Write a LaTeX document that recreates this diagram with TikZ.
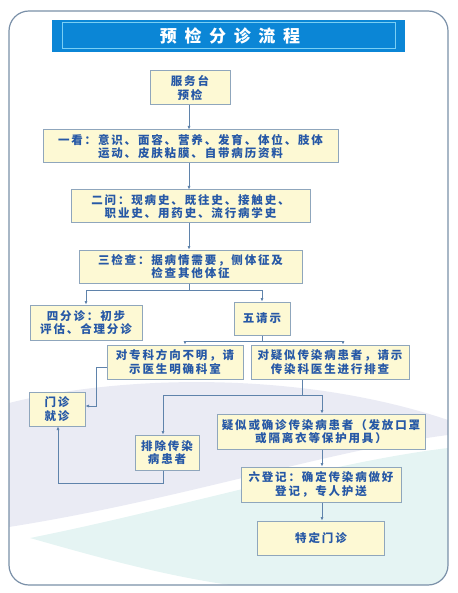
\documentclass[tikz,border=0pt]{standalone}
\usepackage{fontspec}
\newfontfamily\cjk[LetterSpace=16]{Noto Sans CJK SC}
\newfontfamily\cjkt[LetterSpace=45]{Noto Sans CJK SC}
\usetikzlibrary{arrows.meta}
\definecolor{boxfill}{HTML}{FDF9D4}
\definecolor{boxline}{HTML}{8FA6BC}
\definecolor{txt}{HTML}{2658A6}
\definecolor{conn}{HTML}{5F83AB}
\definecolor{frame}{HTML}{7A90A8}
\definecolor{ttlblue}{HTML}{0B86D6}
\definecolor{ttlline}{HTML}{7ACFF4}
\definecolor{lav}{HTML}{EAEBF4}
\definecolor{cyanbg}{HTML}{E5F4F3}
\tikzset{
  stepbox/.style={draw=boxline, fill=boxfill, line width=1pt, text=txt,
    font=\cjk\bfseries\fontsize{11.5}{13.5}\selectfont, align=center,
    inner sep=0pt, rectangle},
  link/.style={draw=conn, line width=0.8pt},
  arr/.style={link, -{Latex[length=3.5pt,width=3.2pt]}},
}
\begin{document}
\begin{tikzpicture}[x=1pt,y=-1pt]
\useasboundingbox (0,0) rectangle (457,593);
% background waves
\begin{scope}
\clip[rounded corners=20pt] (9,11) rectangle (448,585);
\fill[lav] (9,403) .. controls (120,375) and (300,370) .. (448,420)
  -- (448,435) .. controls (330,450) and (180,500) .. (9,527) -- cycle;
\fill[cyanbg] (448,448) .. controls (330,462) and (180,508) .. (30,538)
  .. controls (90,555) and (160,575) .. (230,585) -- (448,585) -- cycle;
\end{scope}
% outer frame
\draw[frame, line width=1.2pt, rounded corners=20pt] (9,11) rectangle (448,585);
% title
\node[fill=ttlblue, minimum width=353pt, minimum height=32pt, inner sep=0pt] (ttl) at (228.5,36) {};
\draw[ttlline, line width=1pt] (62,23) rectangle (395,49);
\node[text=white, font=\cjkt\bfseries\fontsize{17}{19}\selectfont] (ttltext) at (230,36) {预检分诊流程};
% boxes
\node[stepbox, minimum width=80pt, minimum height=34pt] (svc) at (190,88) {服务台\\预检};
\node[stepbox, minimum width=295pt, minimum height=33pt] (look) at (190.5,146.5) {一看：意识、面容、营养、发育、体位、肢体\\运动、皮肤粘膜、自带病历资料};
\node[stepbox, minimum width=239pt, minimum height=33pt] (ask) at (190.5,206.5) {二问：现病史、既往史、接触史、\\职业史、用药史、流行病学史};
\node[stepbox, minimum width=223pt, minimum height=33pt] (check) at (190.5,266.5) {三检查：据病情需要，侧体征及\\检查其他体征};
\node[stepbox, minimum width=112pt, minimum height=35pt] (diag) at (86,322.5) {四分诊：初步\\评估、合理分诊};
\node[stepbox, minimum width=56pt, minimum height=33pt] (req) at (262,318.5) {五请示};
\node[stepbox, minimum width=136pt, minimum height=34pt] (unk) at (175,362) {对专科方向不明，请\\示医生明确科室};
\node[stepbox, minimum width=158pt, minimum height=34pt] (sus) at (330,362) {对疑似传染病患者，请示\\传染科医生进行排查};
\node[stepbox, minimum width=56pt, minimum height=34pt] (clinic) at (57,409) {门诊\\就诊};
\node[stepbox, minimum width=64pt, minimum height=35pt] (excl) at (167,452.5) {排除传染\\病患者};
\node[stepbox, minimum width=208pt, minimum height=35pt] (conf) at (321,431.5) {疑似或确诊传染病患者（发放口罩\\或隔离衣等保护用具）};
\node[stepbox, minimum width=160pt, minimum height=35pt] (reg) at (321,484.5) {六登记：确定传染病做好\\登记，专人护送};
\node[stepbox, minimum width=127pt, minimum height=34pt] (spec) at (321,538) {特定门诊};
% connectors
\draw[arr] ([xshift=-1pt]svc.south) -- ([xshift=-1pt]svc.south |- look.north);
\draw[arr] ([xshift=-1.5pt]look.south) -- ([xshift=-1.5pt]look.south |- ask.north);
\draw[arr] ([xshift=-1.5pt]ask.south) -- ([xshift=-1.5pt]ask.south |- check.north);
\coordinate (j1) at (189,290);
\draw[link] ([xshift=-1.5pt]check.south) -- (j1);
\draw[arr] (j1) -| (diag.north);
\draw[arr] (j1) -| (req.north);
\coordinate (j2) at (262,341);
\draw[link] (req.south) -- (j2);
\draw[arr] (j2) -| ([xshift=10pt]unk.north);
\draw[arr] (j2) -| ([xshift=13pt]sus.north);
\coordinate (k1) at (96,367);
\coordinate (k2) at (96,406);
\draw[arr] ([yshift=-5pt]unk.west) -- (k1) -- (k2) -- (k2 -| clinic.east);
\coordinate (j3) at (302,395);
\draw[link] ([xshift=-28pt]sus.south) -- (j3);
\draw[arr] (j3) -| ([xshift=-4pt]excl.north);
\draw[arr] (j3) -| ([xshift=1pt]conf.north);
\coordinate (k3) at (163,483);
\coordinate (k4) at (58,483);
\draw[arr] ([xshift=-4pt]excl.south) -- (k3) -- (k4) -- (k4 |- clinic.south);
\draw[arr] ([xshift=1pt]conf.south) -- ([xshift=1pt]conf.south |- reg.north);
\draw[arr] ([xshift=1pt]reg.south) -- ([xshift=1pt]reg.south |- spec.north);
\end{tikzpicture}
\end{document}
